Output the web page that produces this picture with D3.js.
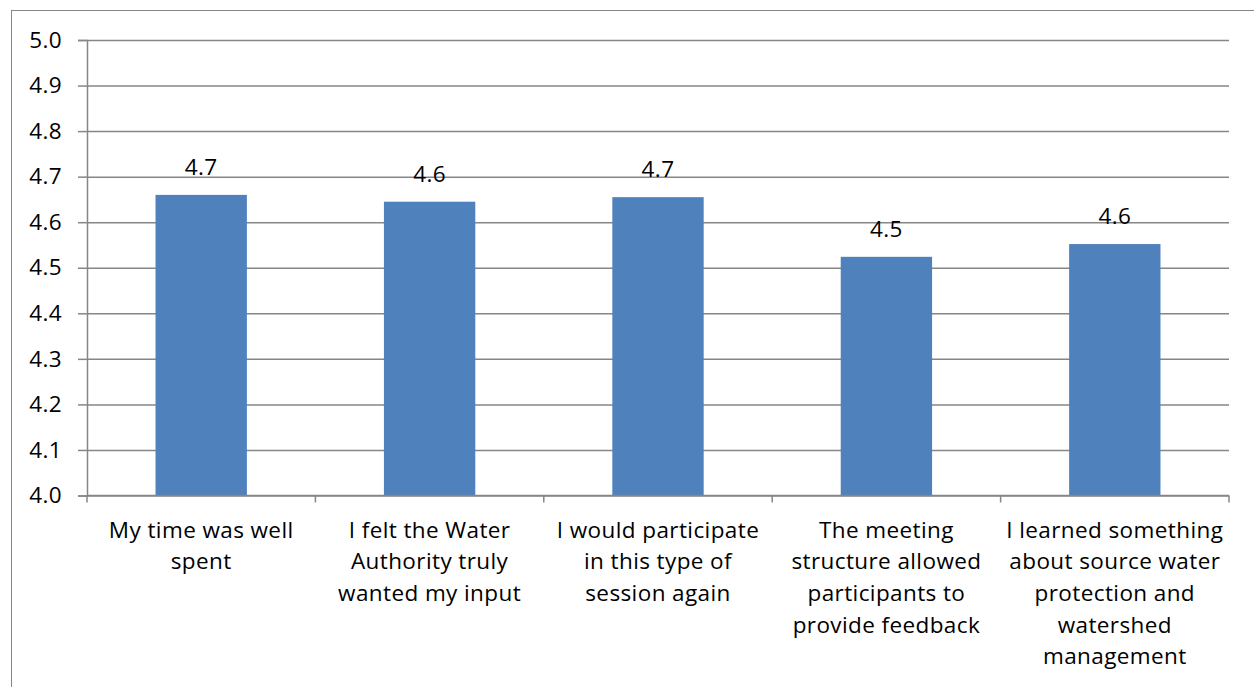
<!DOCTYPE html>
<html>
<head>
<meta charset="utf-8">
<script src="https://cdn.jsdelivr.net/npm/d3@7"></script>
<style>
  html, body { margin: 0; padding: 0; background: #fff; }
  svg { display: block; font-family: "Open Sans", sans-serif; }
</style>
</head>
<body>
<div id="chart"></div>
<script>
// chart data
const categories = [
  ["My time was well", "spent"],
  ["I felt the Water", "Authority truly", "wanted my input"],
  ["I would participate", "in this type of", "session again"],
  ["The meeting", "structure allowed", "participants to", "provide feedback"],
  ["I learned something", "about source water", "protection and", "watershed", "management"]
];
const values = [4.66, 4.645, 4.655, 4.524, 4.552];
const yTicks = [4.0, 4.1, 4.2, 4.3, 4.4, 4.5, 4.6, 4.7, 4.8, 4.9, 5.0];

const width = 1254;
const height = 687;
const margin = {top: 40, right: 24, bottom: 191, left: 87};

const gridColor = "#868686";
const barColor = "#4F81BD";
const fontSize = 22.5;
const spacing = "0.4px";

const svg = d3.select("#chart").append("svg")
    .attr("width", width)
    .attr("height", height);

// outer frame
svg.append("rect")
    .attr("x", 11.5)
    .attr("y", 10.5)
    .attr("width", width + 20)
    .attr("height", height + 20)
    .attr("fill", "none")
    .attr("stroke", gridColor)
    .attr("stroke-width", 1);

const x = d3.scaleBand()
    .domain(d3.range(categories.length))
    .range([margin.left, width - margin.right - 1])
    .paddingInner(0.6)
    .paddingOuter(0.3);

const y = d3.scaleLinear()
    .domain([4.0, 5.0])
    .range([height - margin.bottom - 0.5, margin.top]);

// gridlines
svg.append("g")
    .attr("transform", `translate(${margin.left},0)`)
    .call(d3.axisLeft(y).tickValues(yTicks).tickSize(-(x.range()[1] - margin.left)).tickFormat(""))
    .call(g => g.select(".domain").remove())
    .call(g => g.selectAll("line").attr("stroke", gridColor).attr("stroke-width", 1.5));

// bars
svg.append("g")
  .selectAll("rect")
  .data(values)
  .join("rect")
    .attr("x", (d, i) => x(i))
    .attr("width", x.bandwidth())
    .attr("y", d => y(d))
    .attr("height", d => y(4.0) - y(d))
    .attr("fill", barColor);

// value labels
svg.append("g")
  .selectAll("text")
  .data(values)
  .join("text")
    .attr("x", (d, i) => x(i) + x.bandwidth() / 2)
    .attr("y", d => y(d) - 20)
    .attr("text-anchor", "middle")
    .attr("font-size", fontSize)
    .attr("letter-spacing", spacing)
    .attr("fill", "#000")
    .text(d => d3.format(".1f")(d));

// y axis
svg.append("g")
    .attr("transform", `translate(${margin.left},0)`)
    .call(d3.axisLeft(y).tickValues(yTicks).tickSize(9).tickPadding(16).tickFormat(d3.format(".1f")))
    .call(g => g.select(".domain").attr("stroke", gridColor).attr("stroke-width", 1.5))
    .call(g => g.selectAll("line").attr("stroke", gridColor).attr("stroke-width", 1.5))
    .call(g => g.selectAll("text")
        .attr("font-size", fontSize)
        .attr("letter-spacing", spacing)
        .attr("font-family", "'Open Sans', sans-serif")
        .attr("fill", "#000"));

// x axis line and boundary ticks
const y0 = y(4.0);
const step = x.step();
const bounds = d3.range(categories.length + 1).map(i => x.range()[0] + i * step);
const xg = svg.append("g");
xg.append("line")
    .attr("x1", x.range()[0])
    .attr("x2", x.range()[1])
    .attr("y1", y0)
    .attr("y2", y0)
    .attr("stroke", gridColor)
    .attr("stroke-width", 1.5);
xg.selectAll("line.tick")
  .data(bounds)
  .join("line")
    .attr("class", "tick")
    .attr("x1", d => d)
    .attr("x2", d => d)
    .attr("y1", y0)
    .attr("y2", y0 + 7)
    .attr("stroke", gridColor)
    .attr("stroke-width", 1.5);

// category labels
const labels = svg.append("g")
  .selectAll("text")
  .data(categories)
  .join("text")
    .attr("x", (d, i) => x(i) + x.bandwidth() / 2)
    .attr("y", y0 + 42)
    .attr("text-anchor", "middle")
    .attr("font-size", fontSize)
    .attr("letter-spacing", spacing)
    .attr("fill", "#000");

labels.selectAll("tspan")
  .data(d => d)
  .join("tspan")
    .attr("x", function() { return this.parentNode.getAttribute("x"); })
    .attr("dy", (d, i) => i === 0 ? 0 : 31.7)
    .text(d => d);
</script>
</body>
</html>
